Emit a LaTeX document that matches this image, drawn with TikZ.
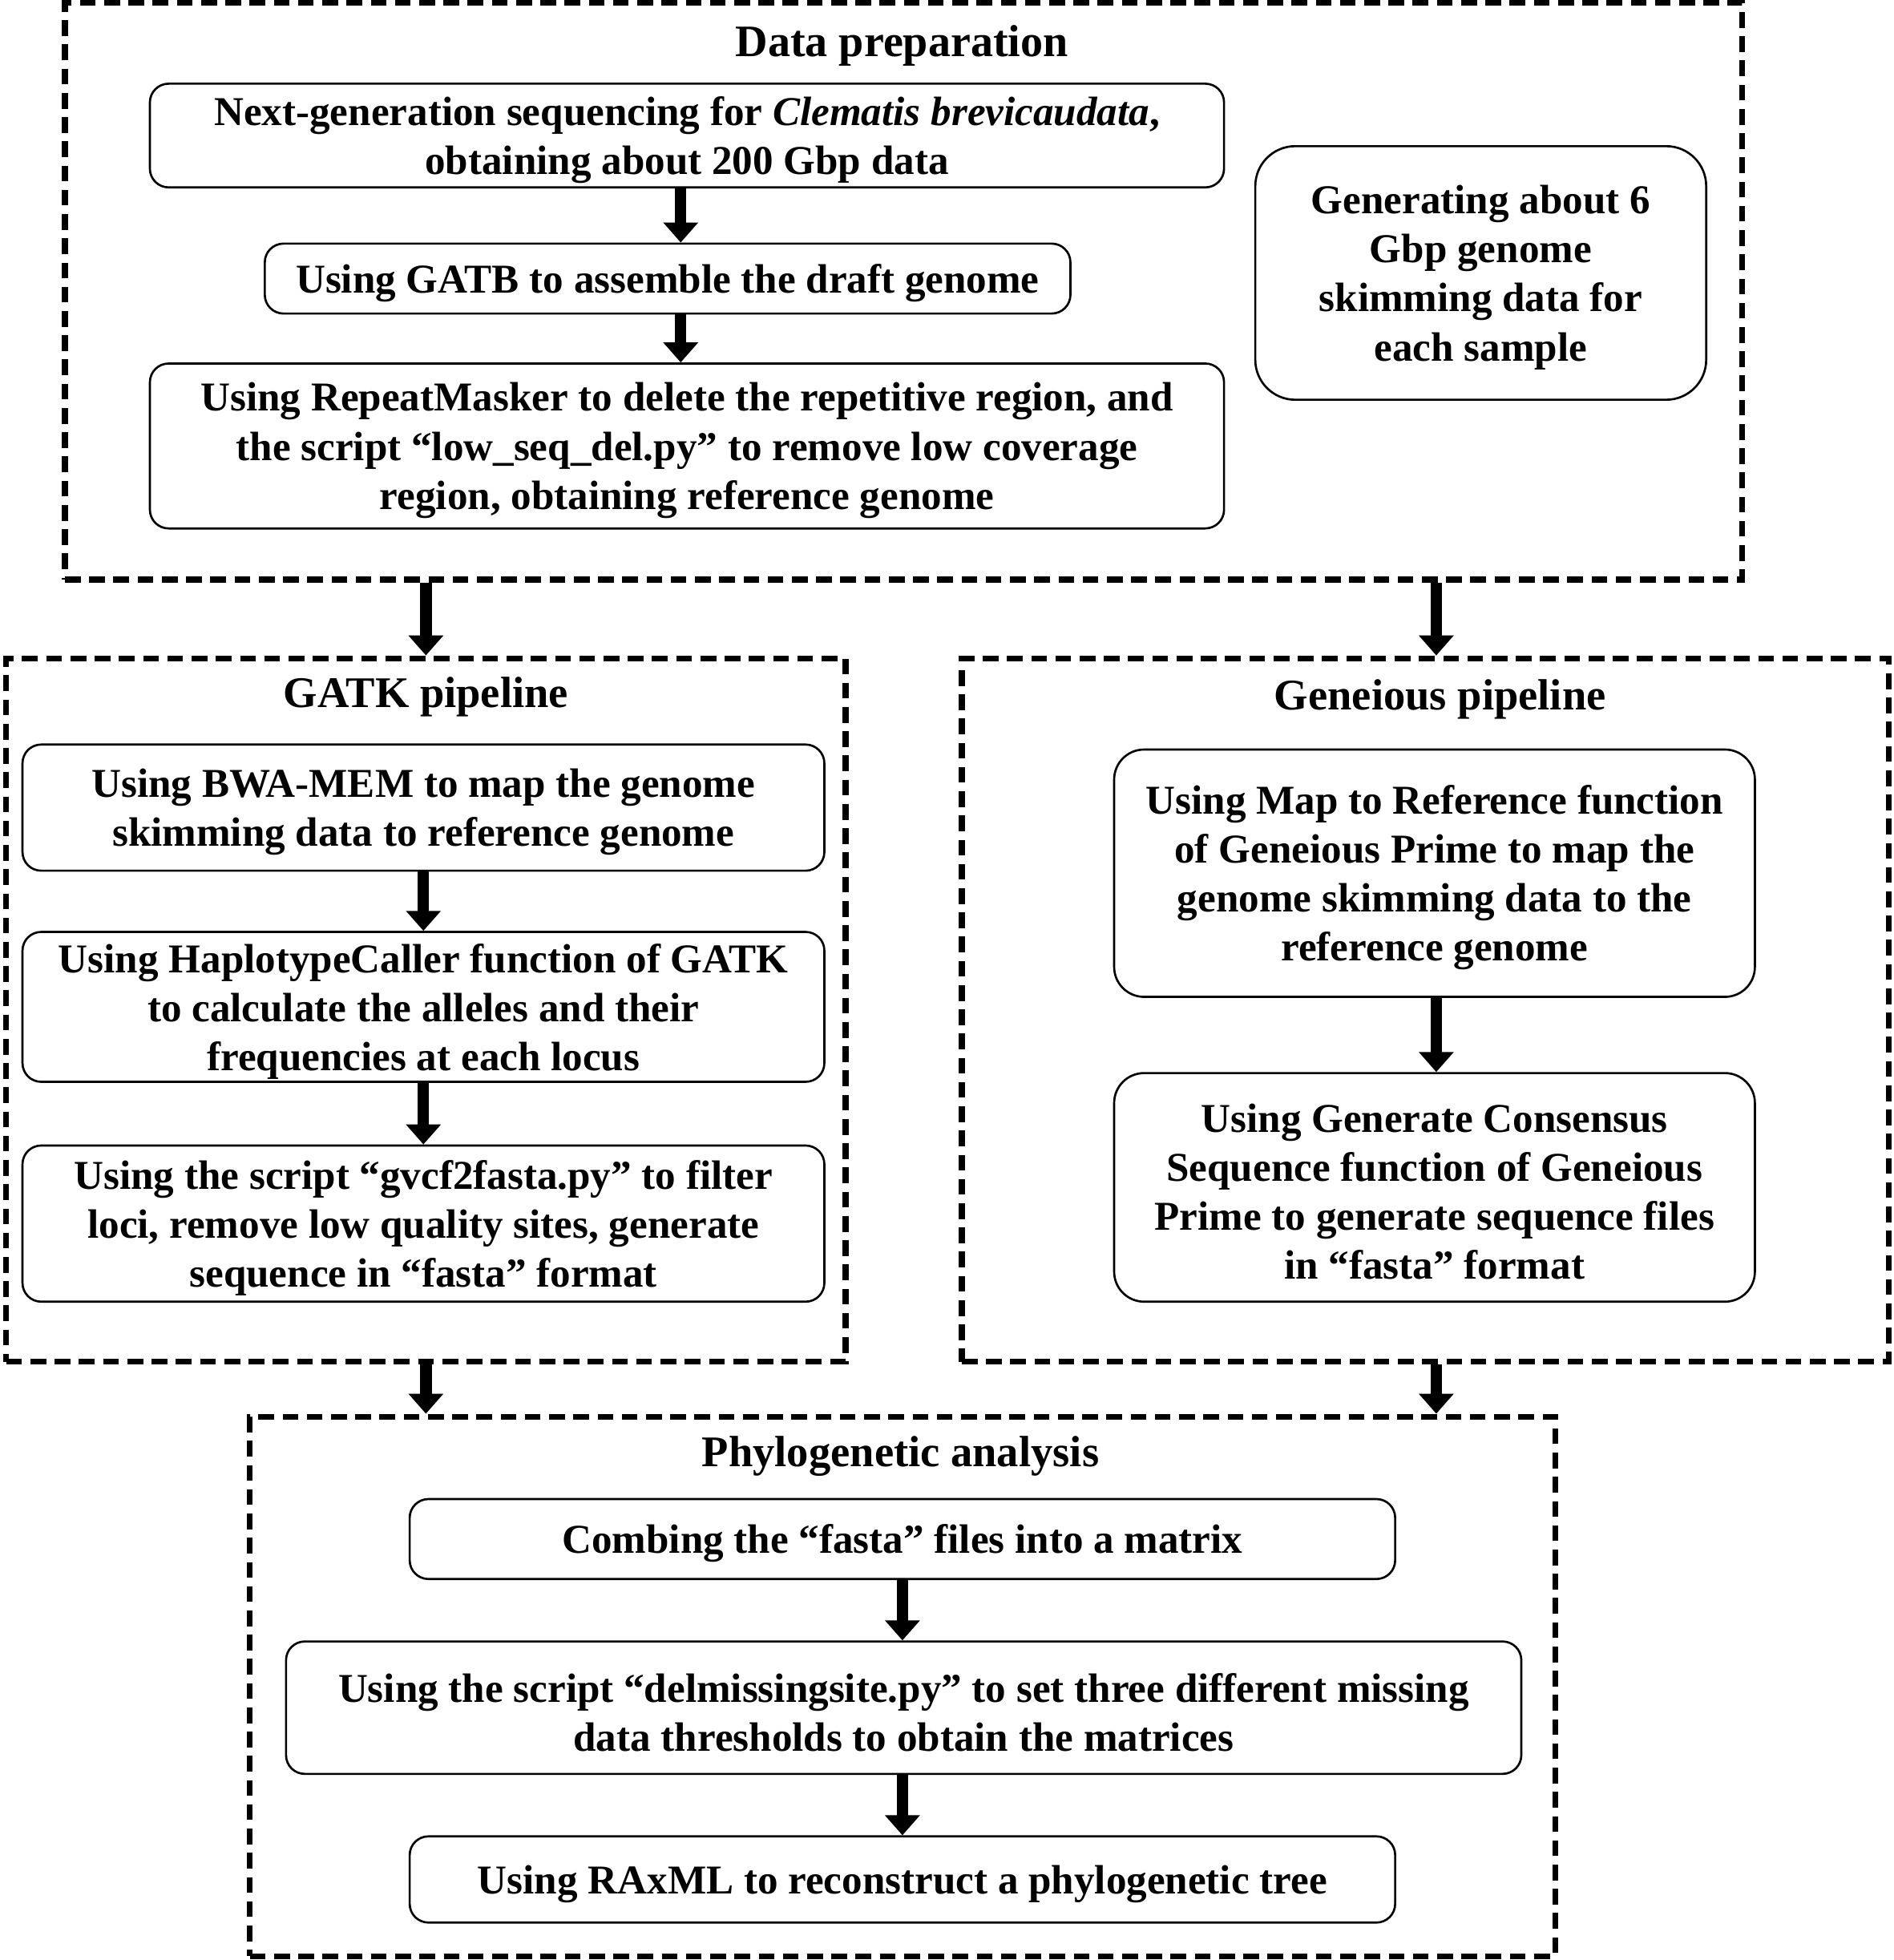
\documentclass[tikz,border=0pt]{standalone}
\usepackage{fontspec}
\setmainfont{Liberation Serif}
\usetikzlibrary{arrows.meta}
\begin{document}
\begin{tikzpicture}[x=0.5pt,y=-0.5pt,
  font=\fontsize{16.4}{19.6}\selectfont\bfseries,
  txt/.style={inner sep=0pt,align=center,font=\fontsize{16.4}{19.6}\selectfont\bfseries,yshift=-1.8pt},
  rbox/.style={draw,line width=0.85pt,rounded corners=7.5pt,inner sep=0pt},
  group/.style={draw,line width=2.3pt,dash pattern=on 6.3pt off 3.4pt,inner sep=0pt},
  title/.style={inner sep=0pt,anchor=center,font=\fontsize{17.5}{20}\selectfont\bfseries},
  arr/.style={line width=4.6pt,-{Triangle[width=13.5pt,length=8pt]}}]
\useasboundingbox (0,0) rectangle (1516,1569);
% group frames
\node[group,minimum width=671.5pt,minimum height=231pt] (DP) at (723.5,233) {};
\node[group,minimum width=336pt,minimum height=281.5pt] (GATK) at (341,808.5) {};
\node[group,minimum width=371pt,minimum height=281.5pt] (GEN) at (1141,808.5) {};
\node[group,minimum width=522.5pt,minimum height=216pt] (PHY) at (722.5,1350) {};
% titles
\node[title,font=\fontsize{18}{20}\selectfont\bfseries] (tDP) at (722,36.5) {Data preparation};
\node[title] (tGATK) at (341,558) {GATK pipeline};
\node[title] (tGEN) at (1153,560) {Geneious pipeline};
\node[title] (tPHY) at (721,1166) {Phylogenetic analysis};
% data preparation
\node[rbox,minimum width=430pt,minimum height=41.5pt,
  label={[txt]center:Next-generation sequencing for \textit{Clematis brevicaudata},\\obtaining about 200 Gbp data}] (A) at (550,108.5) {};
\node[rbox,minimum width=322.5pt,minimum height=28pt,
  label={[txt]center:Using GATB to assemble the draft genome}] (B) at (534.5,223) {};
\node[rbox,minimum width=430pt,minimum height=66pt,
  label={[txt]center:Using RepeatMasker to delete the repetitive region, and\\the script “low\_seq\_del.py” to remove low coverage\\region, obtaining reference genome}] (C) at (550,357) {};
\node[rbox,rounded corners=16pt,minimum width=180.5pt,minimum height=101.5pt,
  label={[txt]center:Generating about 6\\Gbp genome\\skimming data for\\each sample}] (D) at (1185.5,218.5) {};
% GATK
\node[rbox,minimum width=321pt,minimum height=50.5pt,
  label={[txt]center:Using BWA-MEM to map the genome\\skimming data to reference genome}] (G1) at (339,646.5) {};
\node[rbox,minimum width=321pt,minimum height=60pt,
  label={[txt]center:Using HaplotypeCaller function of GATK\\to calculate the alleles and their\\frequencies at each locus}] (G2) at (339,806) {};
\node[rbox,minimum width=321pt,minimum height=62.5pt,
  label={[txt]center:Using the script “gvcf2fasta.py” to filter\\loci, remove low quality sites, generate\\sequence in “fasta” format}] (G3) at (339,979.5) {};
% Geneious
\node[rbox,rounded corners=12pt,minimum width=256.5pt,minimum height=99pt,
  label={[txt]center:Using Map to Reference function\\of Geneious Prime to map the\\genome skimming data to the\\reference genome}] (N1) at (1148.5,699) {};
\node[rbox,rounded corners=12pt,minimum width=256.5pt,minimum height=91.5pt,
  label={[txt]center:Using Generate Consensus\\Sequence function of Geneious\\Prime to generate sequence files\\in “fasta” format}] (N2) at (1148.5,950.5) {};
% phylogenetic
\node[rbox,minimum width=394.5pt,minimum height=32pt,
  label={[txt]center:Combing the “fasta” files into a matrix}] (P1) at (722.5,1232) {};
\node[rbox,minimum width=494.5pt,minimum height=53pt,
  label={[txt]center:Using the script “delmissingsite.py” to set three different missing\\data thresholds to obtain the matrices}] (P2) at (723.5,1367) {};
\node[rbox,minimum width=394.5pt,minimum height=34.5pt,
  label={[txt]center:Using RAxML to reconstruct a phylogenetic tree}] (P3) at (722.5,1504.5) {};
% arrows
\draw[arr] ([xshift=-2.5pt]A.south) -- ([xshift=-2.5pt]A.south |- B.north);
\draw[arr] ([xshift=-2.5pt]A.south |- B.south) -- ([xshift=-2.5pt]A.south |- C.north);
\draw[arr] (GATK.north |- DP.south) -- (GATK.north);
\draw[arr] ([xshift=0.7pt]N1.north |- DP.south) -- ([xshift=0.7pt]N1.north |- GEN.north);
\draw[arr] (G1.south) -- (G2.north);
\draw[arr] (G2.south) -- (G3.north);
\draw[arr] ([xshift=0.7pt]N1.south) -- ([xshift=0.7pt]N1.south |- N2.north);
\draw[arr] (GATK.south) -- (GATK.south |- PHY.north);
\draw[arr] ([xshift=0.7pt]N2.south |- GEN.south) -- ([xshift=0.7pt]N2.south |- PHY.north);
\draw[arr] (P1.south) -- (P1.south |- P2.north);
\draw[arr] (P1.south |- P2.south) -- (P1.south |- P3.north);
\end{tikzpicture}
\end{document}
